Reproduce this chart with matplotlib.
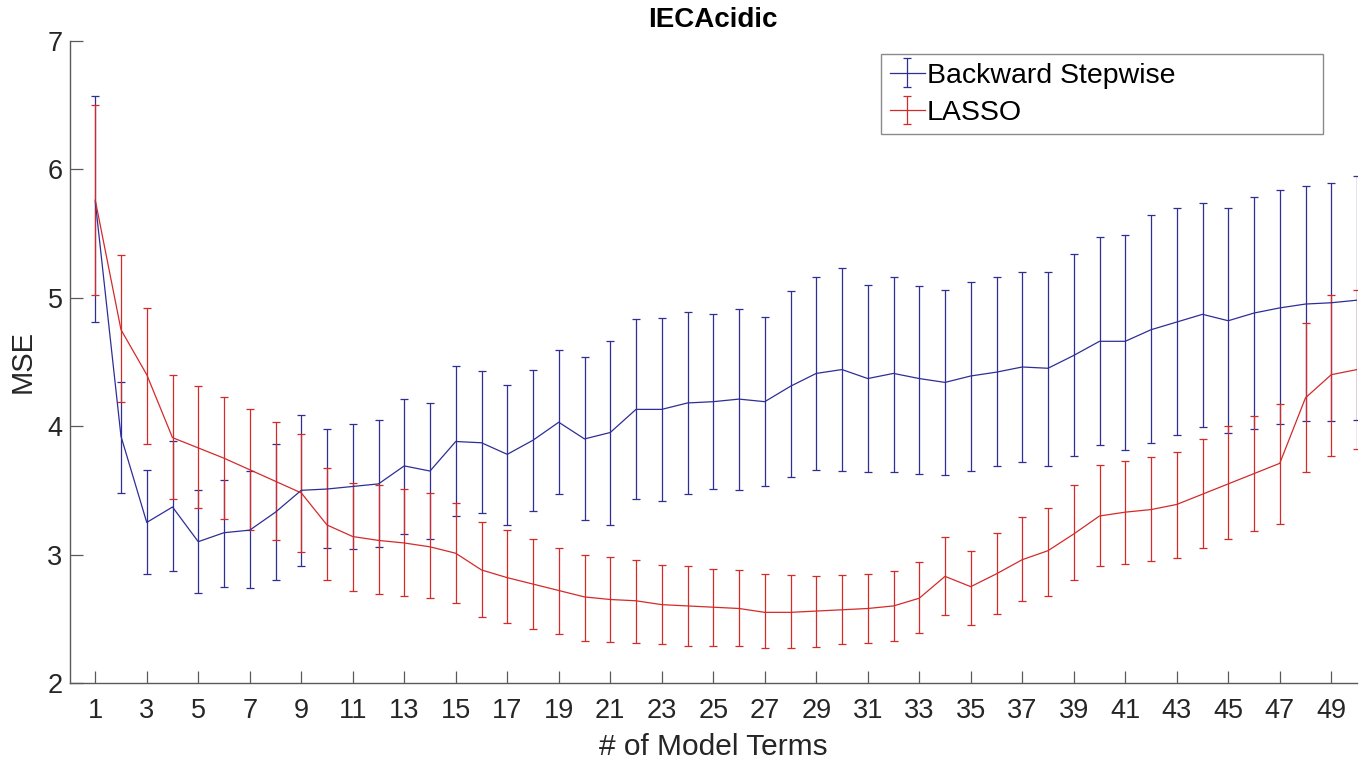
import matplotlib
matplotlib.use("Agg")
import matplotlib.pyplot as plt
import numpy as np

plt.rcParams['font.family'] = ['Liberation Sans', 'DejaVu Sans']

title = "IECAcidic"
x_label = "# of Model Terms"
y_label = "MSE"
series_names = ["Backward Stepwise", "LASSO"]

n_terms = list(range(1, 51))

bs_mean = [5.75, 3.92, 3.25, 3.37, 3.10, 3.17, 3.19, 3.33, 3.50, 3.51,
           3.53, 3.55, 3.69, 3.65, 3.88, 3.87, 3.78, 3.89, 4.03, 3.90,
           3.95, 4.13, 4.13, 4.18, 4.19, 4.21, 4.19, 4.31, 4.41, 4.44,
           4.37, 4.41, 4.37, 4.34, 4.39, 4.42, 4.46, 4.45, 4.55, 4.66,
           4.66, 4.75, 4.81, 4.87, 4.82, 4.88, 4.92, 4.95, 4.96, 4.98]
bs_upper = [6.57, 4.34, 3.66, 3.88, 3.50, 3.58, 3.65, 3.86, 4.09, 3.98,
            4.02, 4.05, 4.21, 4.18, 4.47, 4.43, 4.32, 4.44, 4.59, 4.54,
            4.66, 4.83, 4.84, 4.89, 4.87, 4.91, 4.85, 5.05, 5.16, 5.23,
            5.10, 5.16, 5.09, 5.06, 5.12, 5.16, 5.20, 5.20, 5.34, 5.47,
            5.49, 5.64, 5.70, 5.74, 5.70, 5.78, 5.84, 5.87, 5.89, 5.95]
bs_lower = [4.81, 3.48, 2.85, 2.87, 2.70, 2.75, 2.74, 2.80, 2.91, 3.05,
            3.04, 3.06, 3.16, 3.12, 3.30, 3.32, 3.23, 3.34, 3.47, 3.27,
            3.23, 3.43, 3.42, 3.47, 3.51, 3.50, 3.53, 3.60, 3.66, 3.65,
            3.64, 3.64, 3.63, 3.62, 3.65, 3.69, 3.72, 3.69, 3.77, 3.85,
            3.81, 3.87, 3.93, 3.99, 3.95, 3.98, 4.02, 4.04, 4.04, 4.05]

la_mean = [5.76, 4.75, 4.40, 3.91, 3.83, 3.75, 3.66, 3.57, 3.48, 3.23,
           3.14, 3.11, 3.09, 3.06, 3.01, 2.88, 2.82, 2.77, 2.72, 2.67,
           2.65, 2.64, 2.61, 2.60, 2.59, 2.58, 2.55, 2.55, 2.56, 2.57,
           2.58, 2.60, 2.66, 2.83, 2.75, 2.85, 2.96, 3.03, 3.16, 3.30,
           3.33, 3.35, 3.39, 3.47, 3.55, 3.63, 3.71, 4.22, 4.40, 4.44]
la_upper = [6.50, 5.33, 4.92, 4.40, 4.31, 4.23, 4.13, 4.03, 3.94, 3.67,
            3.56, 3.54, 3.51, 3.48, 3.40, 3.25, 3.19, 3.12, 3.05, 3.00,
            2.98, 2.96, 2.92, 2.91, 2.89, 2.88, 2.85, 2.84, 2.83, 2.84,
            2.85, 2.87, 2.94, 3.14, 3.03, 3.17, 3.29, 3.36, 3.54, 3.70,
            3.73, 3.76, 3.80, 3.90, 4.00, 4.08, 4.17, 4.80, 5.02, 5.06]
la_lower = [5.02, 4.19, 3.86, 3.43, 3.36, 3.28, 3.19, 3.11, 3.02, 2.80,
            2.72, 2.69, 2.68, 2.66, 2.62, 2.51, 2.47, 2.42, 2.38, 2.33,
            2.32, 2.31, 2.30, 2.29, 2.29, 2.29, 2.27, 2.27, 2.28, 2.30,
            2.31, 2.33, 2.39, 2.53, 2.45, 2.54, 2.64, 2.68, 2.80, 2.91,
            2.93, 2.95, 2.97, 3.05, 3.12, 3.18, 3.24, 3.64, 3.77, 3.82]

x_ticks = list(range(1, 50, 2))
y_ticks = [2, 3, 4, 5, 6, 7]

W, H = 1359, 761
fig = plt.figure(figsize=(W / 100, H / 100), dpi=100)
ax = fig.add_axes([69.5 / W, 1 - 683 / H, (1357 - 69.5) / W, (683 - 40.7) / H])

blue = '#2e2e96'
red = '#d42a2a'

def asym(mean, lo, hi):
    m = np.array(mean)
    return [m - np.array(lo), np.array(hi) - m]

ax.errorbar(n_terms, bs_mean, yerr=asym(bs_mean, bs_lower, bs_upper),
            color=blue, ecolor=blue, lw=0.9, elinewidth=0.9, capsize=3.2,
            capthick=0.9, label=series_names[0])
ax.errorbar(n_terms, la_mean, yerr=asym(la_mean, la_lower, la_upper),
            color=red, ecolor=red, lw=0.9, elinewidth=0.9, capsize=3.2,
            capthick=0.9, label=series_names[1])

ax.set_xlim(0, 50)
ax.set_ylim(2, 7)
ax.set_xticks(x_ticks)
ax.set_yticks(y_ticks)

axis_gray = '#5a5a5a'
text_gray = '#262626'
for s in ['top', 'right']:
    ax.spines[s].set_visible(False)
for s in ['left', 'bottom']:
    ax.spines[s].set_color(axis_gray)
    ax.spines[s].set_linewidth(1.0)

ax.tick_params(axis='both', direction='in', length=9, width=0.9,
               color=axis_gray, labelcolor=text_gray, labelsize=19.5)
ax.tick_params(axis='x', pad=11)
ax.tick_params(axis='y', pad=5)

ax.set_xlabel(x_label, fontsize=21.5, color=text_gray, labelpad=6)
ax.set_ylabel(y_label, fontsize=21, color=text_gray, labelpad=8)
ax.set_title(title, fontsize=20, fontweight='bold', color='black', pad=10)

leg = ax.legend(loc='upper left',
                bbox_to_anchor=(881 / W, 1 - 129 / H, (1323 - 881) / W, (129 - 54) / H),
                bbox_transform=fig.transFigure, mode='expand',
                fontsize=20.5, frameon=True, fancybox=False, framealpha=1,
                edgecolor='#8a8a8a', borderaxespad=0, borderpad=0.3,
                handlelength=1.25, handletextpad=0.05, labelspacing=0.4)
leg.get_frame().set_linewidth(1.0)

fig.savefig('out.png', dpi=100, facecolor='white')
